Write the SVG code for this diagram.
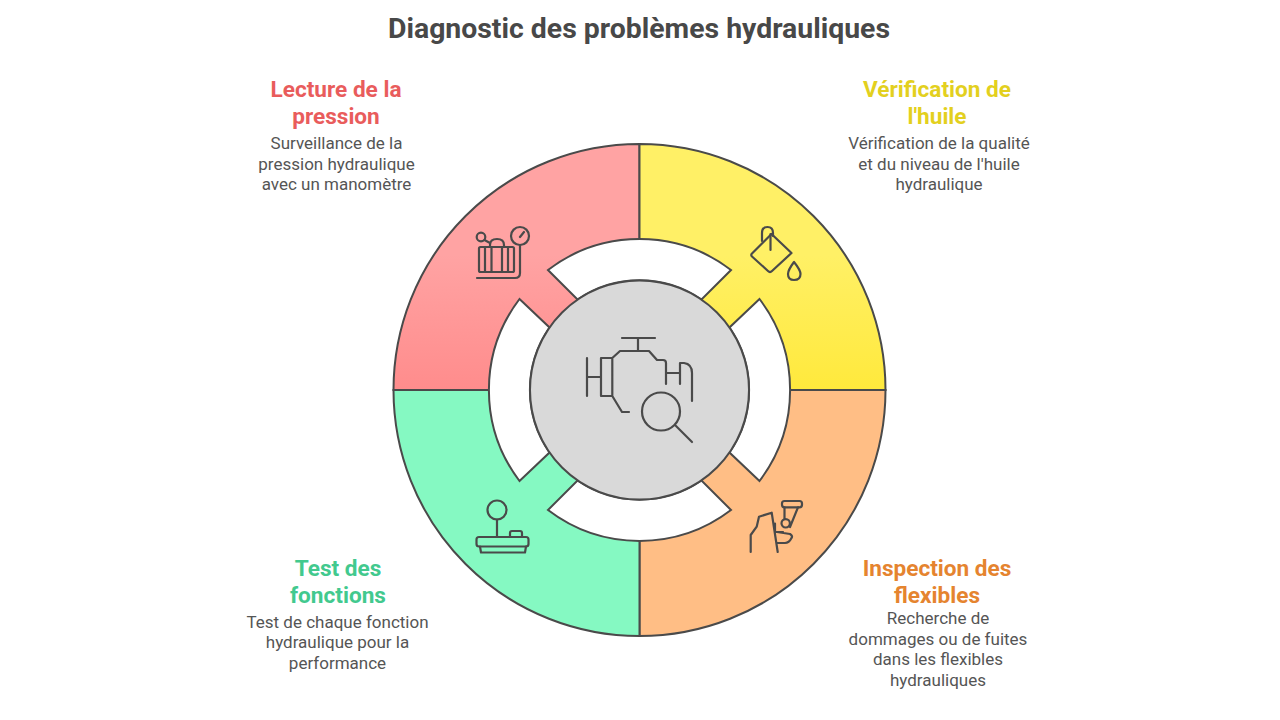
<svg xmlns="http://www.w3.org/2000/svg" width="1280" height="720" viewBox="0 0 1280 720">
<style>
.t{font-family:"Roboto","Liberation Sans",sans-serif;text-anchor:middle}
.title{font-size:28.400px;font-weight:700;fill:#484848}
.h{font-size:22.600px;font-weight:700}
.b{font-size:17px;fill:#555}
.s{stroke:#4a4a4a;stroke-width:2}
.i{fill:none;stroke:#4a4a4a;stroke-width:2.200;stroke-linecap:round;stroke-linejoin:round}
</style>
<defs>
<linearGradient id="gr" x1="0" y1="0" x2="0" y2="1"><stop offset="0.45" stop-color="#ffa3a3"/><stop offset="1" stop-color="#ff8c8c"/></linearGradient>
<linearGradient id="gy" x1="0" y1="0" x2="0" y2="1"><stop offset="0.45" stop-color="#fff066"/><stop offset="1" stop-color="#ffe93c"/></linearGradient>
</defs>
<rect width="1280" height="720" fill="#fff"/>
<text class="t title" x="639" y="38">Diagnostic des problèmes hydrauliques</text>
<g id="node-pression">
<path class="s" fill="url(#gr)" d="M639.500 390H393.500A246 246 0 0 1 639.500 144Z"/>
<g class="i"><circle cx="520" cy="236" r="9"/><path d="M520 237L524 232M520 245V273Q520 278 515 278H477"/><rect x="479" y="247" width="35" height="25" rx="1.500"/><path d="M485 247V272M491.500 247V272M502 247V272M508 247V272M490 247V245Q490 239 497 239Q504 239 504 245V247"/><circle cx="481" cy="237" r="4.300"/><path d="M484.500 240L490 243"/></g>
<text class="t h" fill="#e95c5c"><tspan x="336" y="97">Lecture de la</tspan><tspan x="336" y="124">pression</tspan></text>
<text class="t b"><tspan x="336.500" y="149">Surveillance de la</tspan><tspan x="336.500" y="170">pression hydraulique</tspan><tspan x="336.500" y="190">avec un manomètre</tspan></text>
</g>
<g id="node-huile">
<path class="s" fill="url(#gy)" d="M639.500 390V144A246 246 0 0 1 885.500 390Z"/>
<g class="i"><path d="M771.500 234L791.500 253L772 271Q770 273 768 271L752 256.500Q750.500 255 752 253.500Z"/><path d="M762 241V233Q762 227 767.500 227Q773 227 773 233V236M770.500 234V250"/><path d="M794 262Q788 270 788 274Q788 280 794 280Q800.500 280 800.500 274Q800.500 270 794 262Z"/></g>
<text class="t h" fill="#e3d01e"><tspan x="937" y="97">Vérification de</tspan><tspan x="937" y="124">l'huile</tspan></text>
<text class="t b"><tspan x="939" y="149">Vérification de la qualité</tspan><tspan x="939" y="170">et du niveau de l'huile</tspan><tspan x="939" y="190">hydraulique</tspan></text>
</g>
<g id="node-flexibles">
<path class="s" fill="#ffbe85" d="M639.500 390H885.500A246 246 0 0 1 639.500 636Z"/>
<g class="i"><rect x="782" y="501" width="20" height="6.300" rx="2.500"/><path d="M784.500 507.300V519M798 507.300L790 527"/><circle cx="785.700" cy="523.300" r="4.200"/><path d="M750.700 552V535L756.700 526.700L759 516.700L771.700 512.700L777.700 552M775 523.500V532H783M777 532L790 534Q793 536 791.500 538Q789 543 785 543H777"/></g>
<text class="t h" fill="#e5842f"><tspan x="937" y="576">Inspection des</tspan><tspan x="937" y="603">flexibles</tspan></text>
<text class="t b"><tspan x="938" y="624">Recherche de</tspan><tspan x="938" y="645">dommages ou de fuites</tspan><tspan x="938" y="665">dans les flexibles</tspan><tspan x="938" y="686">hydrauliques</tspan></text>
</g>
<g id="node-fonctions">
<path class="s" fill="#85f9c2" d="M639.500 390V636A246 246 0 0 1 393.500 390Z"/>
<g class="i"><circle cx="497" cy="510" r="9.500"/><path d="M497 519.500V537"/><rect x="476.500" y="537" width="52" height="9.500" rx="2.500"/><path d="M480 546.500L481 552.500H525L526 546.500M510 537V533Q510 531 512 531H520Q522 531 522 533V537"/></g>
<text class="t h" fill="#42c98e"><tspan x="338" y="576">Test des</tspan><tspan x="338" y="603">fonctions</tspan></text>
<text class="t b"><tspan x="337.500" y="628">Test de chaque fonction</tspan><tspan x="337.500" y="648">hydraulique pour la</tspan><tspan x="337.500" y="669">performance</tspan></text>
</g>
<g id="connectors">
<path class="s" fill="#fff" d="M548 270A151 151 0 0 1 731 270L701.500 299.500A109.500 109.500 0 0 0 577.500 299.500Z"/>
<path class="s" fill="#fff" d="M731 510A151 151 0 0 1 548 510L577.500 480.500A109.500 109.500 0 0 0 701.500 480.500Z"/>
<path class="s" fill="#fff" d="M519.500 299A150.600 150.600 0 0 0 519.500 481L549.500 452.500A109.500 109.500 0 0 1 549.500 327.500Z"/>
<path class="s" fill="#fff" d="M759.500 299A150.600 150.600 0 0 1 759.500 481L729.500 452.500A109.500 109.500 0 0 0 729.500 327.500Z"/>
</g>
<g id="node-center">
<circle class="s" cx="639.500" cy="390" r="109.500" fill="#d9d9d9"/>
<g class="i"><path d="M622 338H655M638 338V351M612.300 358L620 351H649L657 360H663Q666 360 666 363V384M666 373H680M680 384V363H684Q692 364 692 373V401M587 358V396M587 377H601M601 358H612.300V396H601ZM612.300 396L622 412H629"/><circle cx="661" cy="411.500" r="19"/><path d="M675 425L692 442"/></g>
</g>
</svg>
